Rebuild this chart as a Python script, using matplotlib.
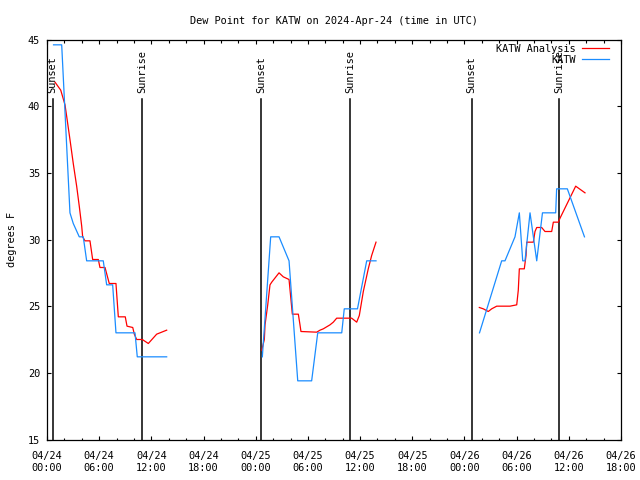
import numpy as np
import matplotlib
matplotlib.use("Agg")
from matplotlib import pyplot as plt

# hours since 2024-04-24 00:00 UTC
ana_hours = [0.92, 1.58, 2.07, 2.27, 2.64, 3.02, 3.41, 3.71, 3.99, 4.10, 4.37, 4.94, 5.25, 5.90,
             6.09, 6.67, 7.16, 7.93, 8.20, 9.00, 9.20, 9.86, 10.04, 10.31, 10.96, 11.65, 12.61, 13.76,
             np.nan,
             24.69, 24.99, 25.07, 25.38, 25.64, 25.84, 26.68, 27.17, 27.83, 28.02, 28.21, 28.90,
             29.09, 29.20, 31.01, 31.39, 31.77, 32.54, 32.92, 33.31, 35.03, 35.61, 35.91, 36.37,
             36.94, 37.33, 37.83,
             np.nan,
             49.71, 50.17, 50.74, 51.13, 51.71, 53.24, 54.01, 54.19, 54.31, 54.88, 55.08, 55.16,
             55.92, 56.11, 56.31, 56.88, 57.26, 58.03, 58.22, 58.79, 58.99, 60.79, 61.86]
ana_dewpt = [41.8, 41.2, 40.1, 39.2, 37.5, 35.7, 34.0, 32.5, 31.0, 30.2, 29.9, 29.9, 28.5, 28.5,
             27.9, 27.9, 26.7, 26.7, 24.2, 24.2, 23.5, 23.4, 22.9, 22.5, 22.5, 22.2, 22.9, 23.2,
             np.nan,
             21.7, 22.5, 23.6, 25.1, 26.6, 26.8, 27.5, 27.2, 27.0, 25.7, 24.4, 24.4,
             23.6, 23.1, 23.05, 23.2, 23.3, 23.6, 23.8, 24.1, 24.1, 23.8, 24.3, 26.1,
             27.8, 28.8, 29.8,
             np.nan,
             24.9, 24.8, 24.6, 24.8, 25.0, 25.0, 25.1, 26.2, 27.8, 27.8, 28.8, 29.8,
             29.8, 30.6, 30.9, 30.9, 30.6, 30.6, 31.3, 31.3, 31.6, 34.0, 33.5]

obs_hours = [0.75, 1.69, 2.64, 3.02, 3.71, 4.17, 4.56, 6.47, 6.86, 7.55, 7.93, 10.12, 10.38, 13.76,
             np.nan,
             24.76, 25.72, 26.68, 27.83, 28.83, 30.43, 31.13, 33.89, 34.18, 35.70, 36.76, 37.83,
             np.nan,
             49.73, 52.28, 52.66, 53.81, 54.31, 54.70, 54.96, 55.54, 56.31, 56.97, 58.49, 58.60,
             59.83, 61.80]
obs_dewpt = [44.6, 44.6, 32.0, 31.2, 30.2, 30.2, 28.4, 28.4, 26.6, 26.6, 23.0, 23.0, 21.2, 21.2,
             np.nan,
             21.2, 30.2, 30.2, 28.4, 19.4, 19.4, 23.0, 23.0, 24.8, 24.8, 28.4, 28.4,
             np.nan,
             23.0, 28.4, 28.4, 30.2, 32.0, 28.4, 28.4, 32.0, 28.4, 32.0, 32.0, 33.8,
             33.8, 30.2]

sunset_hours = [0.65, 24.64, 48.83]
sunrise_hours = [10.96, 34.87, 58.90]

tick_hours = list(range(0, 67, 6))
tick_labels = ["04/24\n00:00", "04/24\n06:00", "04/24\n12:00", "04/24\n18:00",
               "04/25\n00:00", "04/25\n06:00", "04/25\n12:00", "04/25\n18:00",
               "04/26\n00:00", "04/26\n06:00", "04/26\n12:00", "04/26\n18:00"]

fs = 7.4
plt.rcParams['font.family'] = ['DejaVu Sans Mono']
fig = plt.figure(figsize=(6.4, 4.8), dpi=100)
ax = fig.add_axes([47 / 640, 1 - 439.5 / 480, 574 / 640, 400 / 480])

for h in sunset_hours:
    ax.plot([h, h], [15, 40.55], color="black", lw=1.1)
    ax.text(h, 41.0, "Sunset", rotation=90, ha="center", va="bottom", fontsize=fs)
for h in sunrise_hours:
    ax.plot([h, h], [15, 40.55], color="black", lw=1.1)
    ax.text(h, 41.0, "Sunrise", rotation=90, ha="center", va="bottom", fontsize=fs)

ax.plot(ana_hours, ana_dewpt, color="#ff0000", lw=0.9, label="KATW Analysis")
ax.plot(obs_hours, obs_dewpt, color="#1a8cff", lw=0.9, label="KATW")

ax.set_xlim(0, 66)
ax.set_ylim(15, 45)
ax.set_xticks(tick_hours)
ax.set_xticklabels(tick_labels, fontsize=fs, linespacing=1.35)
ax.set_xticks(range(0, 67, 2), minor=True)
ax.set_yticks(range(15, 46, 5))
ax.tick_params(labelsize=fs)
ax.tick_params(which="both", direction="in", top=True, right=True, width=0.8)
ax.tick_params(which="major", length=3.2)
ax.tick_params(axis="x", which="major", pad=8)
ax.tick_params(axis="y", which="major", pad=5)
ax.tick_params(which="minor", length=1.8)
for s in ax.spines.values():
    s.set_linewidth(0.9)

ax.set_ylabel("degrees F", fontsize=fs, labelpad=8)
ax.set_title("Dew Point for KATW on 2024-Apr-24 (time in UTC)", fontsize=fs, pad=11)
ax.legend(loc="upper right", bbox_to_anchor=(1 - 11 / 574, 1 - 3 / 400), frameon=False,
          markerfirst=False, fontsize=fs, handlelength=2.6, handletextpad=0.6,
          labelspacing=0.1, borderaxespad=0, borderpad=0.1)

fig.savefig("out.png", dpi=100)
